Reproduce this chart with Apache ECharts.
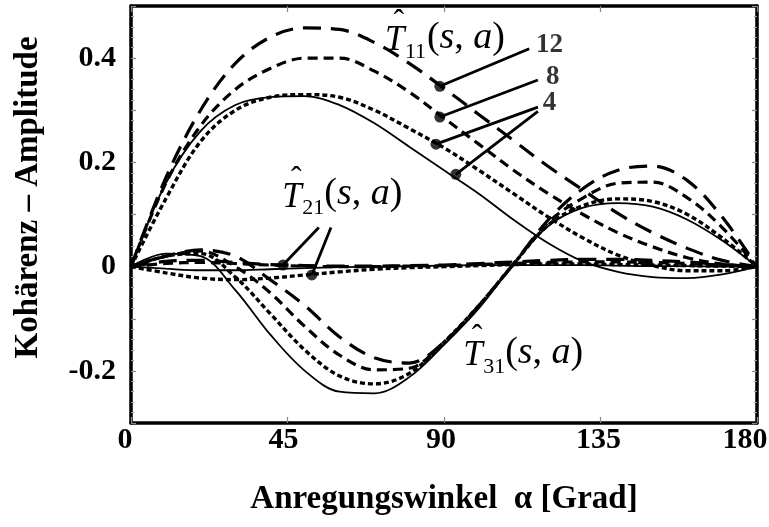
<!DOCTYPE html>
<html><head><meta charset="utf-8">
<script src="https://cdn.jsdelivr.net/npm/echarts/dist/echarts.min.js"></script>
<style>html,body{margin:0;padding:0;background:#fff}#c{width:769px;height:527px}</style>
</head><body><div id="c"></div>
<script>
// ---- data (angle in degrees) ----
const angles = [0,10,20,30,40,50,60,70,80,90,100,110,120,130,140,150,160,170,180];

// T11 family
const t11_4solid = [0,0.16,0.26,0.31,0.325,0.327,0.31,0.275,0.23,0.185,0.14,0.09,0.045,0.01,-0.01,-0.02,-0.022,-0.015,0];
const t11_4dash  = [0,0.13,0.24,0.30,0.325,0.33,0.325,0.30,0.265,0.228,0.185,0.14,0.095,0.055,0.022,0.002,-0.008,-0.008,0];
const t11_8      = [0,0.16,0.27,0.34,0.38,0.40,0.40,0.375,0.335,0.285,0.235,0.185,0.14,0.10,0.065,0.038,0.017,0.005,0];
const t11_12     = [0,0.17,0.30,0.39,0.44,0.458,0.455,0.43,0.39,0.342,0.292,0.242,0.192,0.147,0.102,0.065,0.035,0.012,0];

// T21 family
const t21_4solid = [0,-0.004,-0.007,-0.007,-0.005,-0.003,-0.001,0,0.001,0.002,0.003,0.003,0.003,0.003,0.002,0.001,0.001,0,0];
const t21_4dash  = [0,-0.012,-0.022,-0.025,-0.022,-0.016,-0.01,-0.005,-0.002,0,0.002,0.004,0.005,0.005,0.004,0.003,0.002,0.001,0];
const t21_8      = [0,0.006,0.008,0.006,0.003,0.001,0,0,0.001,0.002,0.004,0.006,0.008,0.009,0.009,0.008,0.006,0.003,0];
const t21_12     = [0,0.01,0.012,0.008,0.004,0.002,0.001,0.001,0.002,0.003,0.006,0.009,0.012,0.014,0.014,0.012,0.009,0.004,0];

// T31 family
const t31_4solid = [0,0.025,0.02,-0.045,-0.13,-0.2,-0.24,-0.243,-0.212,-0.15,-0.08,0.005,0.078,0.113,0.122,0.115,0.09,0.05,0];
const t31_4dash  = [0,0.02,0.025,-0.02,-0.09,-0.16,-0.21,-0.225,-0.205,-0.145,-0.075,0.005,0.08,0.117,0.13,0.125,0.1,0.055,0];
const t31_8      = [0,0.02,0.03,0.0,-0.05,-0.115,-0.17,-0.198,-0.195,-0.145,-0.075,0.005,0.085,0.132,0.16,0.162,0.132,0.075,0];
const t31_12     = [0,0.02,0.032,0.02,-0.025,-0.075,-0.135,-0.175,-0.185,-0.145,-0.075,0.005,0.09,0.15,0.185,0.193,0.165,0.095,0];

// tick labels shown
const yTickValues = [-0.2, 0, 0.2, 0.4];
const yTickTexts  = ['-0.2', '0', '0.2', '0.4'];
const xTickTexts  = ['0', '45', '90', '135', '180'];

// annotation leaders: [dot on curve, end near label]
const leaders = [
  [[88.8, 0.346], [114.5, 0.418]],
  [[88.8, 0.287], [117.0, 0.358]],
  [[87.7, 0.235], [117.0, 0.306]],
  [[93.4, 0.177], [117.0, 0.298]],
  [[43.7, 0.003], [54.0, 0.075]],
  [[52.0, -0.016], [57.5, 0.075]]
];
const numberLabels = [
  {text: '12', at: [120.3, 0.425]},
  {text: '8',  at: [121.3, 0.363]},
  {text: '4',  at: [120.3, 0.313]}
];
const mathLabels = [
  {sub: '11', at: [73.0, 0.433]},
  {sub: '21', at: [43.5, 0.133]},
  {sub: '31', at: [95.5, -0.171]}
];

// ---- chart ----
const FONT = '"Liberation Serif", "Times New Roman", serif';
const styles = {
  solid: {type: 'solid', width: 1.8},
  short: {type: [5, 3], width: 3.4},
  medium: {type: [10, 6], width: 3.2},
  long: {type: [18, 10], width: 3.2}
};
function mk(name, vals, st) {
  return {
    name: name, type: 'line', smooth: 0.35, symbol: 'none',
    data: angles.map((a, i) => [a, vals[i]]),
    lineStyle: Object.assign({color: '#000', cap: 'butt'}, styles[st]),
    z: 3, silent: true
  };
}
const series = [
  mk('T11 4 solid', t11_4solid, 'solid'),
  mk('T11 4 dash', t11_4dash, 'short'),
  mk('T11 8', t11_8, 'medium'),
  mk('T11 12', t11_12, 'long'),
  mk('T21 4 solid', t21_4solid, 'solid'),
  mk('T21 4 dash', t21_4dash, 'short'),
  mk('T21 8', t21_8, 'medium'),
  mk('T21 12', t21_12, 'long'),
  mk('T31 4 solid', t31_4solid, 'solid'),
  mk('T31 4 dash', t31_4dash, 'short'),
  mk('T31 8', t31_8, 'medium'),
  mk('T31 12', t31_12, 'long')
];
leaders.forEach((l, i) => {
  series.push({
    name: 'leader' + i, type: 'line', symbol: 'none', data: l,
    lineStyle: {color: '#000', width: 2.8}, z: 5, silent: true
  });
});
series.push({
  name: 'dots', type: 'scatter', symbolSize: 11,
  data: leaders.map(l => l[0]), itemStyle: {color: '#000'}, z: 6, silent: true
});
series.push({
  name: 'nums', type: 'scatter', symbolSize: 1,
  data: numberLabels.map(n => ({value: n.at, name: n.text})),
  itemStyle: {color: 'rgba(0,0,0,0)'},
  label: {show: true, position: 'inside', formatter: p => p.name,
    fontFamily: FONT, fontWeight: 'bold', fontSize: 27, color: '#000'},
  z: 6, silent: true
});

function yAx(pos, showLabel) {
  return {
    type: 'value', position: pos, min: -0.3, max: 0.5, interval: 0.1,
    axisLine: {show: true, onZero: false, lineStyle: {color: '#000', width: 3.5}},
    axisTick: {show: true, inside: true, length: 5, lineStyle: {color: '#888', width: 1.2}},
    minorTick: {show: true, splitNumber: 5, length: 3, lineStyle: {color: '#999', width: 1}},
    splitLine: {show: false},
    axisLabel: {show: showLabel, margin: 15, fontFamily: FONT, fontWeight: 'bold', fontSize: 30, color: '#000',
      formatter: v => { const i = yTickValues.findIndex(t => Math.abs(t - v) < 1e-6); return i >= 0 ? yTickTexts[i] : ''; }},
    name: showLabel ? 'Kohärenz – Amplitude' : '',
    nameLocation: 'middle', nameGap: 86,
    nameTextStyle: {fontFamily: FONT, fontWeight: 'bold', fontSize: 33, color: '#000', padding: [0, 0, 0, 34]}
  };
}
// label shift (px, leftwards) per x tick, expressed as right padding
const xLabelPad = [12, 8, 6, 4, 24];
function xAx(pos, showLabel) {
  const rich = {};
  xLabelPad.forEach((p, i) => { rich['p' + i] = {fontFamily: FONT, fontWeight: 'bold', fontSize: 30, color: '#000', padding: [0, p, 0, 0]}; });
  return {
    type: 'value', position: pos, min: 0, max: 180, interval: 45,
    axisLine: {show: true, onZero: false, lineStyle: {color: '#000', width: 3.5}},
    axisTick: {show: true, inside: true, length: 6, lineStyle: {color: '#888', width: 1.2}},
    splitLine: {show: false},
    axisLabel: {show: showLabel, margin: 2, fontFamily: FONT, fontWeight: 'bold', fontSize: 30, color: '#000',
      rich: rich,
      formatter: v => { const i = Math.round(v / 45); return xTickTexts[i] ? '{p' + i + '|' + xTickTexts[i] + '}' : ''; }},
    name: showLabel ? 'Anregungswinkel  α [Grad]' : '',
    nameLocation: 'middle', nameGap: 60,
    nameTextStyle: {fontFamily: FONT, fontWeight: 'bold', fontSize: 33, color: '#000'}
  };
}

const chart = echarts.init(document.getElementById('c'), null, {renderer: 'canvas'});
chart.setOption({
  animation: false,
  backgroundColor: '#fff',
  grid: {left: 131, right: 12, top: 6, bottom: 104, containLabel: false, outerBoundsMode: 'none'},
  xAxis: [xAx('bottom', true), xAx('top', false)],
  yAxis: [yAx('left', true), yAx('right', false)],
  series: series
});

// math labels: T-hat with subscript and (s,a)
const graphics = [];
mathLabels.forEach(m => {
  const p = chart.convertToPixel({xAxisIndex: 0, yAxisIndex: 0}, m.at);
  graphics.push({
    type: 'group', x: p[0], y: p[1], z: 10, silent: true,
    children: [
      {type: 'text', x: 0, y: 0, style: {text: 'T', font: 'italic 35px ' + FONT, fill: '#000', verticalAlign: 'middle', align: 'left'}},
      {type: 'text', x: 14, y: -18, style: {text: 'ˆ', font: '32px ' + FONT, fill: '#000', verticalAlign: 'middle', align: 'center'}},
      {type: 'text', x: 20, y: 11, style: {text: m.sub, font: '22px ' + FONT, fill: '#000', verticalAlign: 'middle', align: 'left'}},
      {type: 'text', x: 42, y: -3, style: {
        text: '{u|(}{i|s}{u|,}{i| a}{u|)}', verticalAlign: 'middle', align: 'left', fill: '#000',
        rich: {
          u: {fontFamily: FONT, fontSize: 38, fill: '#000'},
          i: {fontFamily: FONT, fontSize: 38, fontStyle: 'italic', fill: '#000'}
        }}}
    ]
  });
});
chart.setOption({graphic: graphics});
</script>
</body></html>
